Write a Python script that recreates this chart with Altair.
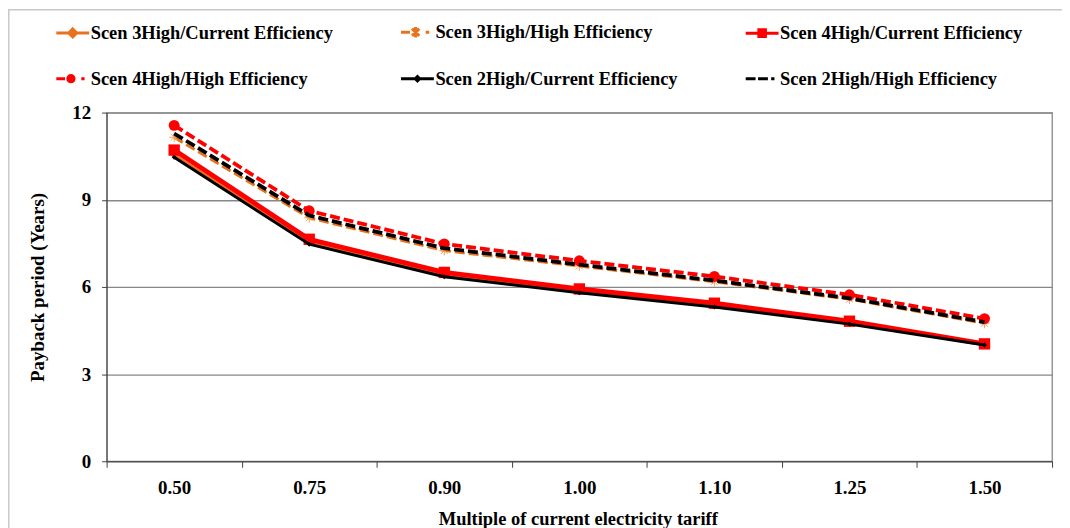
import altair as alt
import pandas as pd

# ---- data ----
tariff = ["0.50", "0.75", "0.90", "1.00", "1.10", "1.25", "1.50"]
series_names = [
    "Scen 3High/Current Efficiency",
    "Scen 3High/High Efficiency",
    "Scen 4High/Current Efficiency",
    "Scen 4High/High Efficiency",
    "Scen 2High/Current Efficiency",
    "Scen 2High/High Efficiency",
]
s3_current = [10.55, 7.52, 6.40, 5.85, 5.36, 4.76, 4.03]
s3_high = [11.15, 8.38, 7.25, 6.72, 6.18, 5.58, 4.75]
s4_current = [10.71, 7.64, 6.50, 5.93, 5.44, 4.82, 4.04]
s4_high = [11.56, 8.62, 7.48, 6.90, 6.36, 5.73, 4.91]
s2_current = [10.46, 7.47, 6.35, 5.80, 5.31, 4.72, 4.00]
s2_high = [11.28, 8.46, 7.33, 6.77, 6.22, 5.61, 4.79]
y_ticks = [0, 3, 6, 9, 12]

all_values = [s3_current, s3_high, s4_current, s4_high, s2_current, s2_high]
rows = []
for name, vals in zip(series_names, all_values):
    for t, v in zip(tariff, vals):
        rows.append({"tariff": t, "series": name, "payback": v})
df = pd.DataFrame(rows)

# ---- styles ----
ORANGE = "#E8731F"
LIGHT_ORANGE = "#F5A262"
RED = "#FF0000"
BLACK = "#000000"
colors = [ORANGE, ORANGE, RED, RED, BLACK, BLACK]
dashes = [None, [10, 4], None, [10, 4], None, [10, 4]]
widths = [3, 3, 4.8, 3.8, 3, 3.8]
FONT = "Liberation Serif"

ASTERISK = "M-1,0L1,0M0,-1L0,1M-0.7,-0.7L0.7,0.7M-0.7,0.7L0.7,-0.7"
point_specs = [
    dict(shape="diamond", filled=True, color=ORANGE, size=50),
    dict(shape=ASTERISK, filled=False, color=LIGHT_ORANGE, size=100, strokeWidth=1),
    dict(shape="square", filled=True, color=RED, size=130),
    dict(shape="circle", filled=True, color=RED, size=120),
    dict(shape="diamond", filled=True, color=BLACK, size=25),
    None,
]

# legend symbols: line + marker drawn as one path in unit coordinates
legend_paths = [
    "M-1,0L1,0M0,-0.24L0.24,0L0,0.24L-0.24,0Z",
    "M-1,0L-0.45,0M-0.11,-0.32L-0.11,0.32M-0.33,-0.22L0.11,0.22M-0.33,0.22L0.11,-0.22M0.5,0L0.72,0",
    "M-1,0L1,0M-0.2,-0.2L0.2,-0.2L0.2,0.2L-0.2,0.2Z",
    "M-1,0L-0.47,0M-0.3,0A0.19,0.19 0 1,1 0.08,0A0.19,0.19 0 1,1 -0.3,0ZM0.52,0L0.72,0",
    "M-1,0L1,0M0,-0.13L0.13,0L0,0.13L-0.13,0Z",
    "M-1,0L-0.4,0M-0.25,0L0.35,0M0.55,0L0.75,0",
]

legend = alt.Legend(
    title=None,
    orient="none",
    legendX=-52,
    legendY=-99,
    direction="horizontal",
    columns=3,
    columnPadding=61,
    rowPadding=17,
    symbolSize=1089,
    symbolStrokeWidth=3,
    labelFont=FONT,
    labelFontSize=18.5,
    labelFontWeight="bold",
    labelColor="#000000",
    labelLimit=400,
    labelOffset=0,
    labelBaseline="middle",
    padding=0,
)

x_enc = alt.X(
    "tariff:N",
    sort=tariff,
    scale=alt.Scale(type="band", domain=tariff, paddingInner=0, paddingOuter=0),
    axis=alt.Axis(
        title="Multiple of current electricity tariff",
        tickBand="extent",
        grid=False,
        labelAngle=0,
        labelFont=FONT,
        labelFontSize=19,
        labelFontWeight="bold",
        labelColor="#000000",
        labelPadding=11,
        tickSize=6,
        tickColor="#404040",
        domainColor="#404040",
        titleFont=FONT,
        titleFontSize=18.5,
        titleFontWeight="bold",
        titleColor="#000000",
        titleX=473,
        titleY=63,
        titleBaseline="alphabetic",
        titleAlign="center",
    ),
)
y_enc = alt.Y(
    "payback:Q",
    scale=alt.Scale(domain=[0, 12], nice=False, zero=True),
    axis=alt.Axis(
        title="Payback period (Years)",
        values=y_ticks,
        grid=True,
        gridColor="#878787",
        gridWidth=1.3,
        labelFont=FONT,
        labelFontSize=19,
        labelFontWeight="bold",
        labelColor="#000000",
        labelPadding=11,
        tickSize=5,
        tickColor="#404040",
        domainColor="#404040",
        titleFont=FONT,
        titleFontSize=19,
        titleFontWeight="bold",
        titleColor="#000000",
        titleAngle=-90,
        titleX=-69,
        titleY=175,
        titleAlign="center",
        titleBaseline="middle",
    ),
)

base = alt.Chart(df)
layers = []

# outer chart frame
frame = alt.Chart(pd.DataFrame({"f": [0]})).mark_rect(
    fill="transparent", stroke="#C8C8C8", strokeWidth=1.5
).encode(
    x=alt.value(-98.2), y=alt.value(-103.2), x2=alt.value(1400), y2=alt.value(900)
)
layers.append(frame)

for i, name in enumerate(series_names):
    line_kwargs = dict(strokeWidth=widths[i], strokeJoin="miter", color=colors[i])
    if dashes[i] is not None:
        line_kwargs["strokeDash"] = dashes[i]
    line = base.transform_filter(alt.datum.series == name).mark_line(**line_kwargs).encode(
        x=x_enc, y=y_enc
    )
    layers.append(line)
    spec = point_specs[i]
    if spec is not None:
        pk = dict(shape=spec["shape"], size=spec["size"], opacity=1)
        if spec["filled"]:
            pk.update(filled=True, color=spec["color"])
        else:
            pk.update(filled=False, stroke=spec["color"], strokeWidth=spec["strokeWidth"])
        pts = base.transform_filter(alt.datum.series == name).mark_point(**pk).encode(
            x=x_enc, y=y_enc
        )
        layers.append(pts)

# legend-only layer: its points sit far outside the drawing, only its legend shows
legend_layer = base.mark_point(filled=True, opacity=1, strokeWidth=3).encode(
    x=alt.value(-3000),
    y=alt.value(-3000),
    fill=alt.Fill("series:N", scale=alt.Scale(domain=series_names, range=colors), legend=legend),
    stroke=alt.Stroke("series:N", scale=alt.Scale(domain=series_names, range=colors), legend=legend),
    shape=alt.Shape("series:N", scale=alt.Scale(domain=series_names, range=legend_paths), legend=legend),
)
layers.append(legend_layer)

chart = (
    alt.layer(*layers)
    .properties(
        width=949,
        height=350,
        padding={"left": 99, "top": 104, "right": 10, "bottom": 66},
        autosize=alt.AutoSizeParams(type="none"),
        background="white",
    )
    .configure_view(stroke="#888888", strokeWidth=1.3)
)

chart.save("out.html", embed_options={"renderer": "svg", "actions": False})
